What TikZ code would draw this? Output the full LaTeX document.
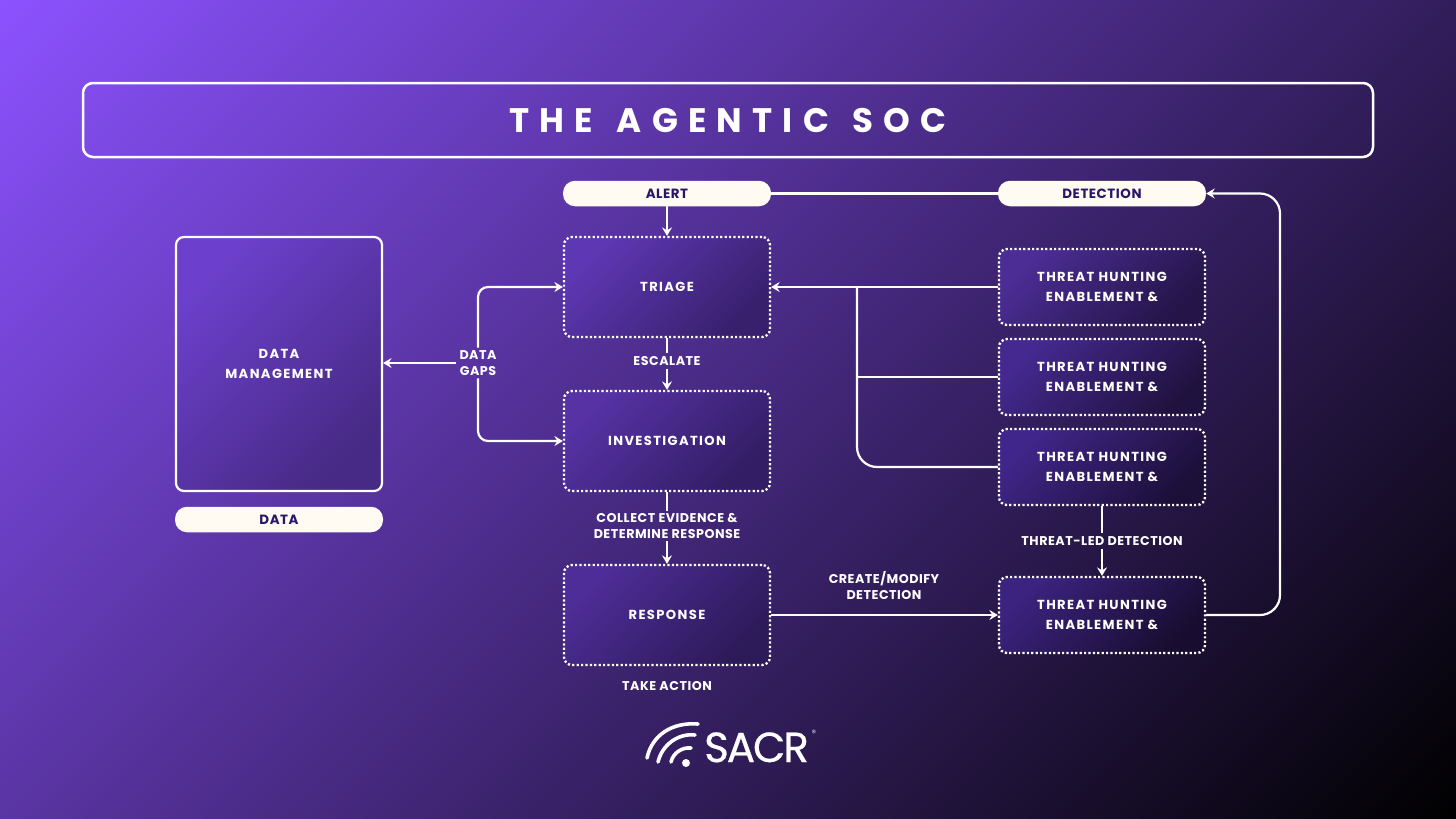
\documentclass[tikz,border=0pt]{standalone}
\usepackage{fontspec}
\usetikzlibrary{arrows.meta}
\setmainfont{Poppins}
\newfontfamily\lblfont[LetterSpace=10.5]{Poppins}
\newfontfamily\smlfont[LetterSpace=4]{Poppins}
\newfontfamily\titlefont[LetterSpace=30,WordSpace=1.35]{Poppins}
\newfontfamily\logofont[LetterSpace=-5]{Poppins}
\definecolor{cream}{HTML}{FFFAF2}
\definecolor{inkc}{HTML}{2A1566}
\definecolor{bgA}{HTML}{8C52FF}
\definecolor{mA}{HTML}{6C40CC}\definecolor{mB}{HTML}{472A85}
\definecolor{trA}{HTML}{5E37B4}\definecolor{trB}{HTML}{38206C}
\definecolor{inA}{HTML}{5632A5}\definecolor{inB}{HTML}{331D64}
\definecolor{reA}{HTML}{4E2D98}\definecolor{reB}{HTML}{2D1A58}
\definecolor{oA}{HTML}{4C2D95}\definecolor{oB}{HTML}{241448}
\definecolor{twA}{HTML}{452990}\definecolor{twB}{HTML}{20123F}
\definecolor{thA}{HTML}{40268A}\definecolor{thB}{HTML}{1C0F38}
\definecolor{foA}{HTML}{3C2380}\definecolor{foB}{HTML}{180D30}
\pgfdeclarehorizontalshading{bgshade}{100bp}{color(0bp)=(bgA); color(100bp)=(black)}
\tikzset{
  card/.style n args={2}{draw=white,line width=2.3pt,dash pattern=on 2.2pt off 2.2pt,rounded corners=8pt,
    left color=#1,right color=#2,shading angle=45,minimum width=206pt,inner sep=0pt,
    align=center,text=white,font=\fontsize{13.1}{19.5}\selectfont\lblfont\bfseries},
  solidcard/.style n args={2}{draw=white,line width=2.2pt,rounded corners=8pt,
    left color=#1,right color=#2,shading angle=45,minimum width=206pt,inner sep=0pt,
    align=center,text=white,font=\fontsize{13.1}{19.5}\selectfont\lblfont\bfseries},
  pill/.style={fill=cream,rounded corners=12pt,minimum width=208pt,minimum height=25.5pt,inner sep=0pt,
    text=inkc,font=\fontsize{13.4}{14}\selectfont\smlfont\bfseries},
  lbl/.style={text=white,align=center,inner sep=3pt,font=\fontsize{12.7}{15.2}\selectfont\smlfont\bfseries},
  conn/.style={draw=white,line width=2.2pt},
  arr/.style={conn,-{Stealth[length=8.5pt,width=10pt,inset=3pt]}},
  logoarc/.style={draw=white,line width=3.6pt,line cap=round},
}
\begin{document}
\begin{tikzpicture}[x=1pt,y=-1pt]
\useasboundingbox (0,0) rectangle (1456,819);
\begin{scope}
\clip (0,0) rectangle (1456,819);
\node[inner sep=0pt,rotate=-45,xscale=16.03,yscale=20,transform shape] (bg) at (728,409.5) {\pgfuseshading{bgshade}};
\end{scope}
% title
\node[draw=white,line width=2.5pt,rounded corners=10pt,minimum width=1290pt,minimum height=74pt,inner sep=0pt,
  text=white,font=\fontsize{34}{40}\selectfont\titlefont\bfseries,text depth=0pt,yshift=0pt] (title) at (728,120) {\raisebox{-1pt}{THE AGENTIC SOC}};
% pills
\node[pill] (alert) at (667,193.5) {ALERT};
\node[pill] (detection) at (1102,193.5) {DETECTION};
\node[pill] (data) at (279,519.5) {DATA};
% left box
\node[solidcard={mA}{mB},minimum height=254pt] (mgmt) at (279,364) {DATA\\MANAGEMENT};
% centre
\node[card={trA}{trB},minimum height=100pt] (triage) at (667,287) {TRIAGE};
\node[card={inA}{inB},minimum height=100pt] (invest) at (667,441) {INVESTIGATION};
\node[card={reA}{reB},minimum height=100pt] (resp) at (667,615) {RESPONSE};
% threat boxes
\node[card={oA}{oB},minimum height=76pt] (t1) at (1102,287) {THREAT HUNTING\\ENABLEMENT \&};
\node[card={twA}{twB},minimum height=76pt] (t2) at (1102,377) {THREAT HUNTING\\ENABLEMENT \&};
\node[card={thA}{thB},minimum height=76pt] (t3) at (1102,467) {THREAT HUNTING\\ENABLEMENT \&};
\node[card={foA}{foB},minimum height=76pt] (t4) at (1102,615) {THREAT HUNTING\\ENABLEMENT \&};
% labels
\node[lbl] (esc) at (667,361) {ESCALATE};
\node[lbl] (coll) at (667,526) {COLLECT EVIDENCE \&\\DETERMINE RESPONSE};
\node[lbl] (gaps) at (478,363) {DATA\\GAPS};
\node[lbl] (led) at (1102,541) {THREAT-LED DETECTION};
\node[lbl] (create) at (884,585.5) {CREATE/MODIFY\\DETECTION};
\node[lbl] (take) at (667,686) {TAKE ACTION};
% connectors
\draw[arr] (alert) -- (triage);
\draw[conn] (detection) -- (alert);
\draw[conn] (triage) -- (esc);
\draw[arr] (esc) -- (invest);
\draw[conn] (invest) -- (coll);
\draw[arr] (coll) -- (resp);
\draw[arr] (gaps) -- (gaps-|mgmt.east);
\draw[arr,rounded corners=10pt] (gaps.north) |- (triage.west);
\draw[arr,rounded corners=10pt] (gaps.south) |- (invest.west);
\draw[arr] (t1) -- (triage);
\coordinate (jn) at (857,287);
\draw[conn] (t2.west) -- (t2.west-|jn);
\draw[conn,rounded corners=20pt] (t3.west) -| (jn);
\draw[conn] (t3) -- (led);
\draw[arr] (led) -- (t4);
\draw[arr] (resp) -- (t4);
\coordinate (loop) at (1280,400);
\draw[arr,rounded corners=20pt] (t4.east) -| (loop) |- (detection.east);
% logo
\coordinate (dot) at (686,763);
\fill[white] (dot) circle (4pt);
\draw[logoarc] (647,758) .. controls (652,735) and (672,722) .. (698,724);
\draw[logoarc] (658,762) .. controls (662,745) and (678,733) .. (695,735);
\draw[logoarc] (671,762) .. controls (673,753) and (682,747) .. (691,748);
\node[inner sep=0pt,anchor=base west,text=white,font=\fontsize{42}{44}\selectfont\logofont\addfontfeature{FakeBold=0.6}] (sacr) at (704,762) {SACR};
\node[inner sep=0pt,text=white!75!bgA,font=\fontsize{9}{9}\selectfont] (reg) at (814,733) {®};
\end{tikzpicture}
\end{document}
